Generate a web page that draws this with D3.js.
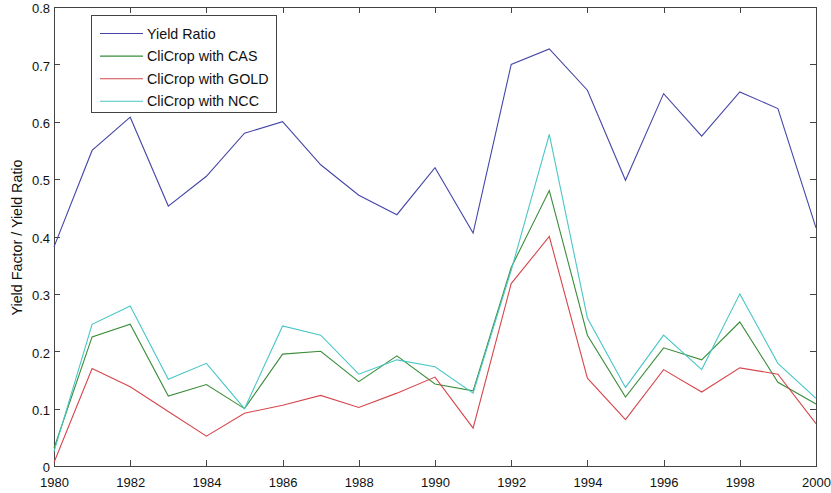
<!DOCTYPE html>
<html>
<head>
<meta charset="utf-8">
<script src="https://cdn.jsdelivr.net/npm/d3@7"></script>
<style>
  body { margin: 0; background: #fff; }
  text { font-family: Arial, "Liberation Sans", Helvetica, sans-serif; fill: #111; }
</style>
</head>
<body>
<div id="chart"></div>
<script>
// data
var years = [1980, 1981, 1982, 1983, 1984, 1985, 1986, 1987, 1988, 1989, 1990,
             1991, 1992, 1993, 1994, 1995, 1996, 1997, 1998, 1999, 2000];
var yieldRatio = [0.382, 0.55, 0.608, 0.453, 0.505, 0.58, 0.6, 0.525, 0.472, 0.438, 0.52,
                  0.406, 0.70, 0.727, 0.655, 0.498, 0.649, 0.575, 0.652, 0.623, 0.415];
var cas = [0.031, 0.225, 0.247, 0.122, 0.142, 0.1, 0.195, 0.2, 0.147, 0.192, 0.143,
           0.131, 0.346, 0.48, 0.228, 0.12, 0.206, 0.185, 0.251, 0.146, 0.108];
var gold = [0.006, 0.17, 0.138, 0.095, 0.052, 0.092, 0.106, 0.123, 0.102, 0.127, 0.155,
            0.066, 0.318, 0.4, 0.153, 0.081, 0.168, 0.129, 0.171, 0.16, 0.074];
var ncc = [0.025, 0.247, 0.279, 0.151, 0.179, 0.1, 0.244, 0.228, 0.16, 0.185, 0.173,
           0.127, 0.341, 0.578, 0.258, 0.137, 0.228, 0.168, 0.3, 0.179, 0.118];
var seriesNames = ["Yield Ratio", "CliCrop with CAS", "CliCrop with GOLD", "CliCrop with NCC"];
var seriesColors = ["#4646a8", "#3a8d3a", "#d5474c", "#4ac6c6"];
var xTicks = [1980, 1982, 1984, 1986, 1988, 1990, 1992, 1994, 1996, 1998, 2000];
var yTicks = [0, 0.1, 0.2, 0.3, 0.4, 0.5, 0.6, 0.7, 0.8];

var width = 831, height = 493;
var margin = {top: 7, right: 15, bottom: 27, left: 54};
var iw = width - margin.left - margin.right;
var ih = height - margin.top - margin.bottom;

var svg = d3.select("#chart").append("svg")
    .attr("width", width)
    .attr("height", height);

var g = svg.append("g")
    .attr("transform", "translate(" + margin.left + "," + margin.top + ")");

var x = d3.scaleLinear().domain([1980, 2000]).range([0, iw]);
var y = d3.scaleLinear().domain([0, 0.8]).range([ih, 0]);

var tickLen = 6;

// bottom axis (ticks point inward, matlab style)
var xAxis = g.append("g")
    .attr("transform", "translate(0," + ih + ")")
    .call(d3.axisBottom(x).tickValues(xTicks).tickFormat(d3.format("d")).tickSize(-tickLen).tickPadding(12));
// left axis
var yAxis = g.append("g")
    .call(d3.axisLeft(y).tickValues(yTicks).tickFormat(function (d) { return d === 0 ? "0" : d3.format(".1f")(d); })
        .tickSize(-tickLen).tickPadding(4));
// top and right mirrored ticks
var xTop = g.append("g")
    .call(d3.axisTop(x).tickValues(xTicks).tickFormat("").tickSize(-tickLen));
var yRight = g.append("g")
    .attr("transform", "translate(" + iw + ",0)")
    .call(d3.axisRight(y).tickValues(yTicks).tickFormat("").tickSize(-tickLen));

[xAxis, yAxis, xTop, yRight].forEach(function (a) {
    a.select(".domain").remove();
    a.selectAll("line").attr("stroke", "#444").attr("shape-rendering", "crispEdges");
    a.selectAll("text").attr("font-size", "13px").style("fill", "#111");
});
yAxis.selectAll("text").attr("dy", "0.45em");

// box
g.append("rect")
    .attr("x", 0).attr("y", 0)
    .attr("width", iw).attr("height", ih)
    .attr("fill", "none")
    .attr("stroke", "#444")
    .attr("shape-rendering", "crispEdges");

// y label
svg.append("text")
    .attr("transform", "translate(22," + (margin.top + ih / 2 + 1) + ") rotate(-90)")
    .attr("text-anchor", "middle")
    .attr("font-size", "14.3px")
    .text("Yield Factor / Yield Ratio");

var allSeries = [yieldRatio, cas, gold, ncc];

var line = d3.line()
    .x(function (d, i) { return x(years[i]); })
    .y(function (d) { return y(d); });

g.selectAll("path.series")
    .data(allSeries)
    .enter().append("path")
    .attr("class", "series")
    .attr("d", line)
    .attr("fill", "none")
    .attr("stroke", function (d, i) { return seriesColors[i]; })
    .attr("stroke-width", 1.1);

// legend
var legend = svg.append("g").attr("transform", "translate(91,15)");
legend.append("rect")
    .attr("width", 185).attr("height", 97)
    .attr("fill", "#fff")
    .attr("stroke", "#444")
    .attr("shape-rendering", "crispEdges");

var item = legend.selectAll("g.item")
    .data(seriesNames)
    .enter().append("g")
    .attr("class", "item")
    .attr("transform", function (d, i) { return "translate(0," + (18.5 + i * 22.6) + ")"; });

item.append("line")
    .attr("x1", 9).attr("x2", 52)
    .attr("stroke", function (d, i) { return seriesColors[i]; })
    .attr("stroke-width", 1.1);

item.append("text")
    .attr("x", 56)
    .attr("dy", "0.36em")
    .attr("font-size", "14.3px")
    .text(function (d) { return d; });
</script>
</body>
</html>
